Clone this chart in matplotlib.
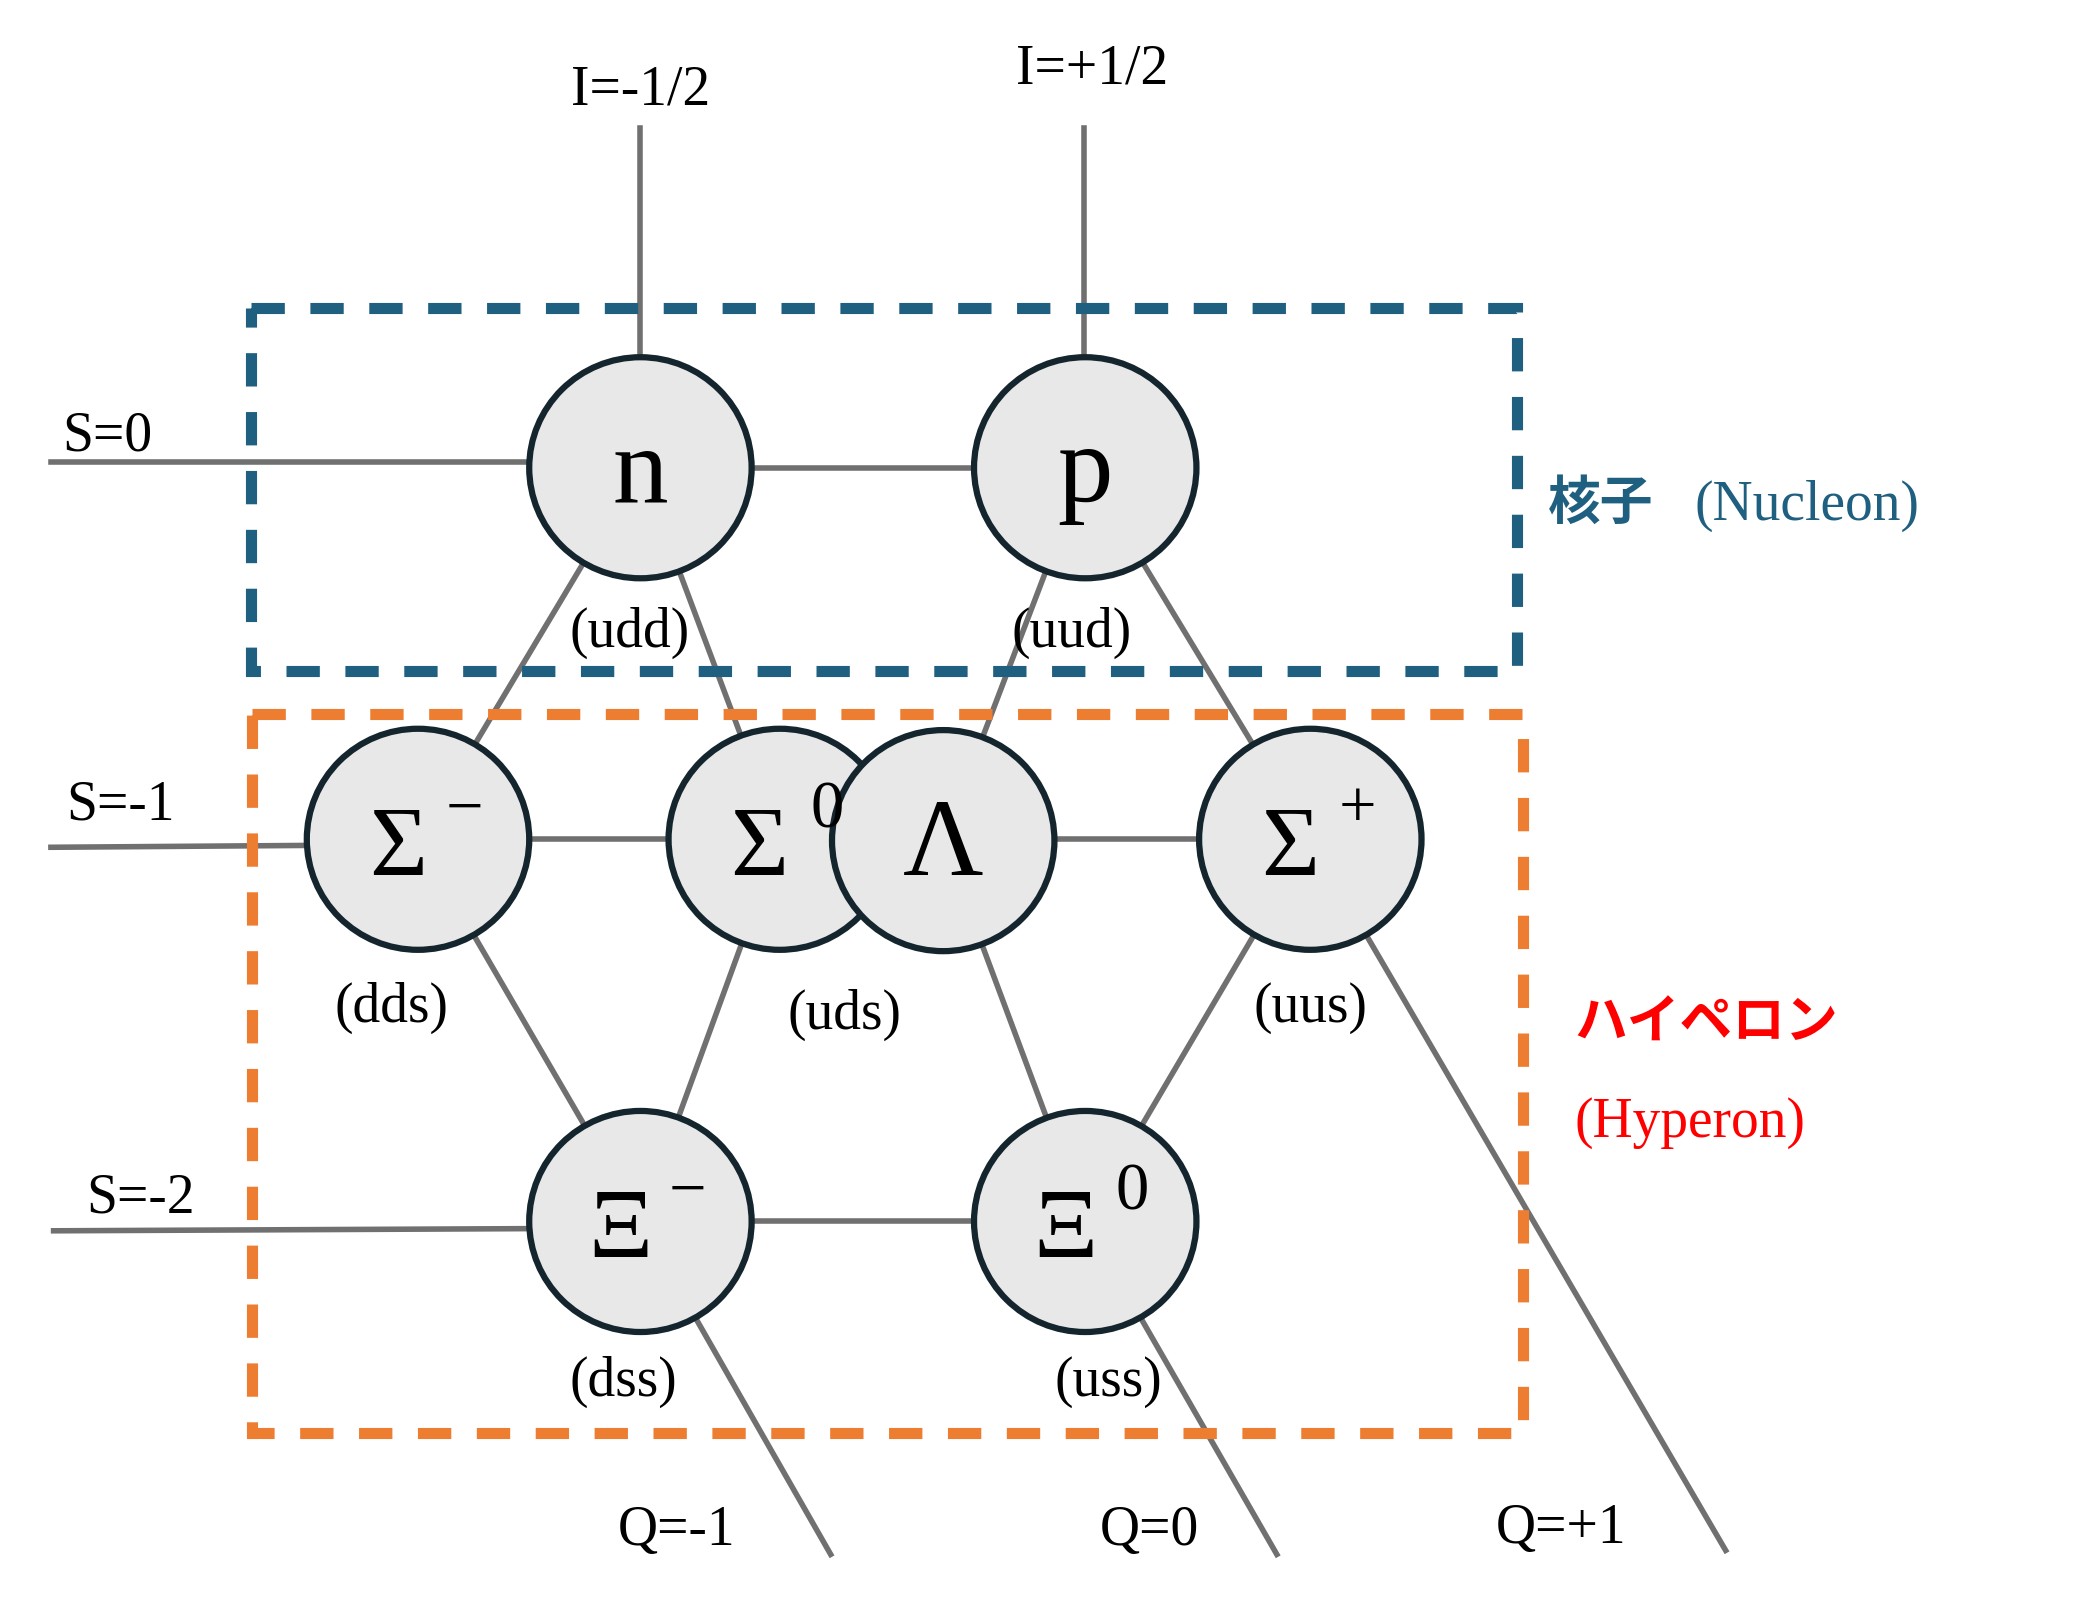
import matplotlib.pyplot as plt
from matplotlib.patches import Circle, Rectangle

plt.rcParams['font.family'] = ['Liberation Serif', 'Noto Sans CJK JP', 'DejaVu Sans']

# particle name, superscript, quark content, centre (diagram units)
names = ["n", "p", "Σ", "Σ", "Λ", "Σ", "Ξ", "Ξ"]
supers = ["", "", "−", "0", "", "+", "−", "0"]
quarks = ["(udd)", "(uud)", "(dds)", "(uds)", "", "(uus)", "(dss)", "(uss)"]
xs = [478, 810, 312, 582, 704, 978, 478, 810]
ys = [352, 352, 631, 631, 632, 631, 918, 918]
quark_pos = [(470, 475), (800, 475), (292, 757), (630, 762), (0, 0), (978, 757), (465, 1038), (827, 1038)]

q_labels = ["Q=-1", "Q=0", "Q=+1"]
q_pos = [(505, 1150), (858, 1150), (1165, 1148)]
s_labels = ["S=0", "S=-1", "S=-2"]
s_pos = [(80, 328), (90, 605), (105, 900)]
i_labels = ["I=-1/2", "I=+1/2"]
i_pos = [(478, 68), (815, 52)]

# connecting lines (indices into particle lists, or free end points)
edges = [(0, 1), (2, 5), (6, 7), (0, 2), (0, 3), (1, 4), (1, 5), (2, 6), (3, 6), (4, 7), (5, 7)]
free_lines = [((478, 97), (478, 352)), ((809, 97), (809, 352)),
              ((38, 348), (478, 348)), ((38, 637), (312, 635)), ((40, 925), (478, 923)),
              ((478, 918), (620, 1168)), ((810, 918), (953, 1168)), ((978, 631), (1288, 1165))]

fig = plt.figure(figsize=(20.74, 16.06), dpi=100)
ax = fig.add_axes([0, 0, 1, 1])
ax.set_xlim(0, 1548)
ax.set_ylim(1206, 0)
ax.axis('off')

line_kw = dict(color='#707070', lw=4, zorder=1)
for a, b in free_lines:
    ax.plot([a[0], b[0]], [a[1], b[1]], **line_kw)
for i, j in edges:
    ax.plot([xs[i], xs[j]], [ys[i], ys[j]], **line_kw)

# dashed boxes
ax.add_patch(Rectangle((187, 232), 945, 273, fill=False, ec='#1F5F80', lw=8,
                       ls=(0, (3, 2.3)), zorder=2))
ax.add_patch(Rectangle((188, 537), 949, 540, fill=False, ec='#ED7D31', lw=8,
                       ls=(0, (3, 2.3)), zorder=2))

for k in range(len(names)):
    ax.add_patch(Circle((xs[k], ys[k]), 83, fc='#E8E8E8', ec='#14252E', lw=4.5, zorder=3))
    if supers[k]:
        ax.text(xs[k] - 15, ys[k] + 8, names[k], fontsize=72, ha='center', va='center', zorder=4)
        ax.text(xs[k] + 35, ys[k] - 22, supers[k], fontsize=48, ha='center', va='center', zorder=4)
    else:
        ax.text(xs[k], ys[k] + 5, names[k], fontsize=80, ha='center', va='center', zorder=4)
    if quarks[k]:
        ax.text(quark_pos[k][0], quark_pos[k][1], quarks[k], fontsize=40, ha='center', va='center', zorder=5)

for lab, (x, y) in zip(q_labels + s_labels + i_labels, q_pos + s_pos + i_pos):
    ax.text(x, y, lab, fontsize=40, ha='center', va='center')

ax.text(1155, 378, "核子", fontsize=38, color='#1F5F80', fontweight='bold', va='center',
        family=['Noto Sans CJK JP'])
ax.text(1265, 380, "(Nucleon)", fontsize=40, color='#1F5F80', va='center')
ax.text(1175, 768, "ハイペロン", fontsize=38, color='#FF0000', fontweight='bold', va='center',
        family=['Noto Sans CJK JP'])
ax.text(1175, 843, "(Hyperon)", fontsize=40, color='#FF0000', va='center')

fig.savefig('out.png', dpi=100)
